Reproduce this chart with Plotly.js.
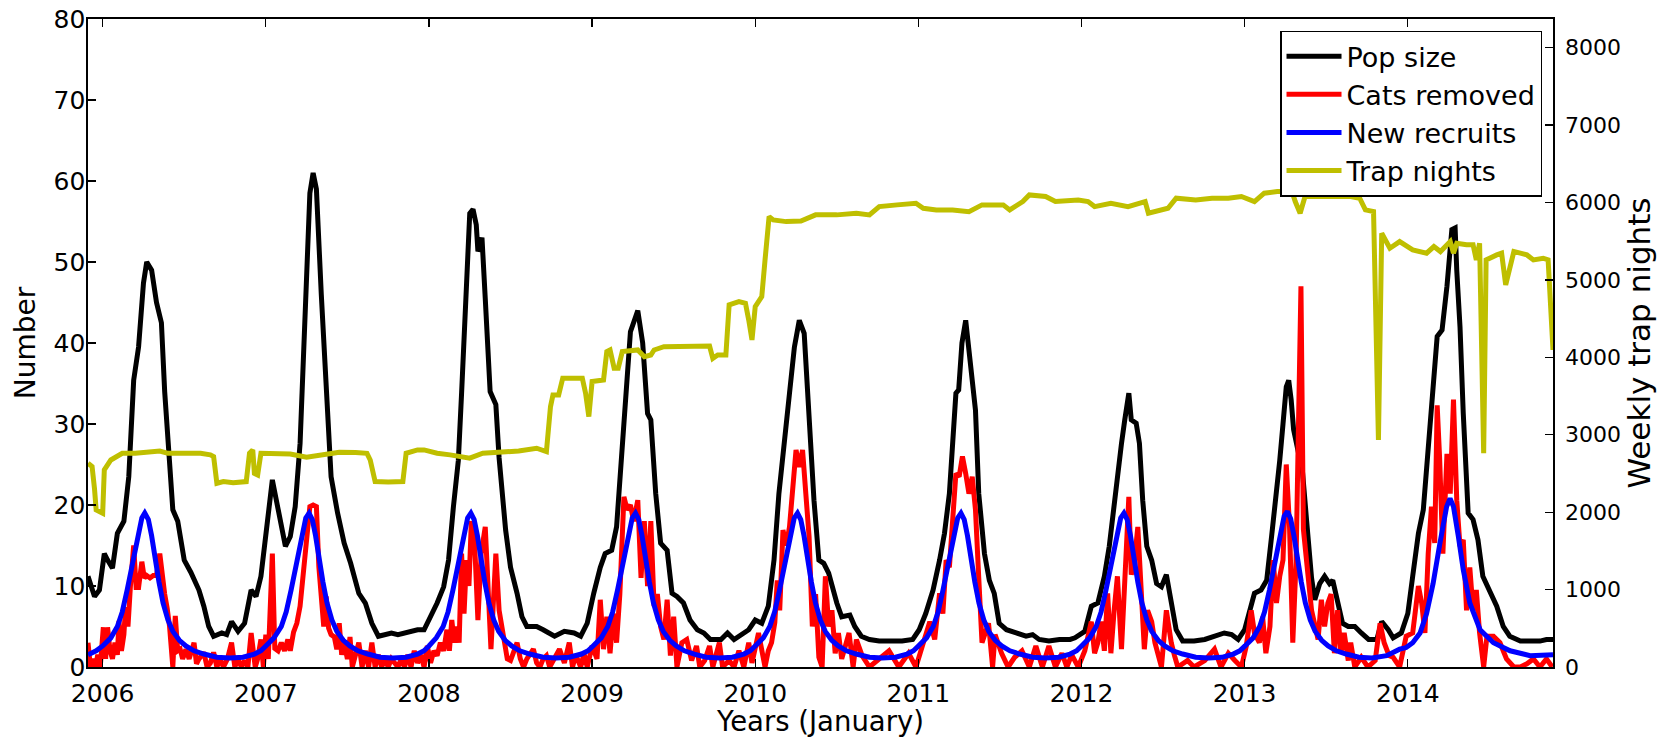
<!DOCTYPE html>
<html>
<head>
<meta charset="utf-8">
<script src="https://cdn.plot.ly/plotly-3.0.1.min.js"></script>
<style>
html,body{margin:0;padding:0;background:#fff;}
#chart{width:1668px;height:737px;}
</style>
</head>
<body>
<div id="chart"></div>
<script>
// ---- tick labels ----
const yearTicks = [2006, 2007, 2008, 2009, 2010, 2011, 2012, 2013, 2014];

// ---- Pop size (black) ----
const popYears = [2005.91,2005.95,2005.98,2006.01,2006.03,2006.06,2006.09,2006.13,2006.16,2006.19,2006.22,2006.25,2006.27,2006.30,2006.33,2006.36,2006.38,2006.41,2006.43,2006.46,2006.50,2006.54,2006.59,2006.62,2006.65,2006.68,2006.73,2006.76,2006.79,2006.83,2006.87,2006.91,2006.94,2006.97,2007.00,2007.04,2007.08,2007.12,2007.15,2007.18,2007.21,2007.24,2007.27,2007.29,2007.31,2007.34,2007.37,2007.40,2007.44,2007.48,2007.52,2007.57,2007.61,2007.65,2007.69,2007.73,2007.77,2007.81,2007.85,2007.93,2007.97,2008.01,2008.05,2008.09,2008.12,2008.15,2008.18,2008.20,2008.22,2008.25,2008.27,2008.29,2008.30,2008.325,2008.345,2008.375,2008.41,2008.43,2008.47,2008.50,2008.54,2008.57,2008.60,2008.66,2008.70,2008.77,2008.83,2008.89,2008.93,2008.97,2009.01,2009.05,2009.08,2009.12,2009.15,2009.17,2009.205,2009.235,2009.28,2009.31,2009.34,2009.36,2009.39,2009.42,2009.46,2009.49,2009.52,2009.56,2009.60,2009.645,2009.685,2009.725,2009.79,2009.83,2009.87,2009.93,2009.96,2010.00,2010.04,2010.08,2010.115,2010.145,2010.18,2010.21,2010.24,2010.27,2010.30,2010.33,2010.36,2010.39,2010.42,2010.45,2010.47,2010.50,2010.53,2010.58,2010.61,2010.65,2010.70,2010.76,2010.84,2010.90,2010.965,2011.005,2011.045,2011.09,2011.13,2011.16,2011.19,2011.21,2011.23,2011.247,2011.267,2011.29,2011.32,2011.35,2011.37,2011.405,2011.435,2011.465,2011.495,2011.54,2011.60,2011.66,2011.70,2011.74,2011.80,2011.865,2011.93,2011.96,2012.02,2012.06,2012.10,2012.14,2012.17,2012.19,2012.22,2012.245,2012.265,2012.29,2012.305,2012.335,2012.355,2012.375,2012.40,2012.43,2012.46,2012.49,2012.52,2012.55,2012.58,2012.62,2012.69,2012.755,2012.815,2012.875,2012.92,2012.96,2013.00,2013.03,2013.06,2013.10,2013.135,2013.165,2013.195,2013.215,2013.235,2013.255,2013.27,2013.285,2013.30,2013.355,2013.38,2013.41,2013.43,2013.46,2013.49,2013.52,2013.54,2013.57,2013.60,2013.635,2013.675,2013.715,2013.76,2013.81,2013.84,2013.88,2013.91,2013.96,2014.00,2014.03,2014.065,2014.095,2014.125,2014.15,2014.17,2014.18,2014.21,2014.24,2014.27,2014.29,2014.30,2014.32,2014.34,2014.37,2014.40,2014.43,2014.46,2014.50,2014.545,2014.585,2014.625,2014.69,2014.75,2014.81,2014.85,2014.89];
const popSize = [11.2,8.7,9.5,14,13.2,12.2,16.5,18,23.5,35.4,39.5,47.4,50.0,49,45,42.5,34,24.3,19.4,18,13.2,11.7,9.5,7.5,5.0,3.8,4.2,4.0,5.6,4.4,5.4,9.5,8.7,11.2,16.1,23.1,19,14.9,16.1,19.8,27.6,42,58.5,61,59,46,33.8,23.5,19,15.3,12.8,9.1,7.9,5.4,3.8,4.0,4.2,4.0,4.2,4.6,4.6,6.2,7.9,9.9,13.2,19.8,25.5,33.8,44,56,56.5,54.6,51.3,53,45.5,34,32.4,25.8,16.9,12.3,9.1,6.2,5.0,5.0,4.6,3.8,4.4,4.2,3.8,5.4,9.1,12.3,14,14.4,17.3,23.5,33,41.4,44,40,31.3,30.5,21.4,15.3,14.4,9.1,8.7,7.9,5.8,4.6,4.2,3.4,3.4,4.2,3.4,4.2,4.6,5.8,5.4,7.5,13.2,21.4,28.9,33.8,39.5,42.8,41.2,30.5,20.6,13.2,12.8,11.6,10,7.9,6.2,6.4,5.0,3.8,3.4,3.2,3.2,3.2,3.4,4.6,6.6,9.5,13.2,16.5,21.4,28.9,33.8,34.2,40,42.8,37.8,31.7,21.4,14,10.7,9.1,5.4,4.6,4.2,3.8,4.0,3.4,3.2,3.4,3.4,3.6,4.4,7.5,7.9,11.2,14.9,18.6,23.5,27.6,30.5,33.8,30.5,30.1,27.6,20.6,14.9,13.2,10.3,9.9,11.4,7.9,4.6,3.2,3.2,3.4,3.8,4.2,4.0,3.4,4.6,7.0,9.1,9.5,10.7,16.1,21.4,25.5,30,34.6,35.4,33,29.3,24,18,11,8.3,10.3,11.2,10.3,10.7,7.9,5.4,5.0,5.0,4.2,3.4,3.4,5.6,4.6,3.6,4.2,6.6,11.2,16.5,19.4,27.6,33.8,38.3,40.8,41.6,47,54,54.2,49,42,31.3,19,18.2,15.7,11.2,9.5,7.5,5.0,3.8,3.2,3.2,3.2,3.4,3.4];

// ---- Cats removed (red) ----
const removedYears = [2005.91,2005.925,2005.94,2005.955,2005.97,2005.985,2006.004,2006.018,2006.03,2006.045,2006.06,2006.075,2006.09,2006.10,2006.115,2006.13,2006.14,2006.155,2006.17,2006.19,2006.205,2006.22,2006.24,2006.255,2006.27,2006.29,2006.31,2006.33,2006.35,2006.365,2006.38,2006.395,2006.41,2006.43,2006.445,2006.46,2006.475,2006.49,2006.51,2006.53,2006.56,2006.575,2006.59,2006.62,2006.64,2006.66,2006.68,2006.70,2006.72,2006.74,2006.765,2006.79,2006.81,2006.83,2006.85,2006.87,2006.89,2006.91,2006.935,2006.95,2006.97,2006.985,2007.00,2007.015,2007.04,2007.055,2007.075,2007.095,2007.115,2007.135,2007.15,2007.17,2007.19,2007.21,2007.23,2007.25,2007.27,2007.29,2007.31,2007.325,2007.34,2007.355,2007.37,2007.385,2007.40,2007.42,2007.435,2007.45,2007.465,2007.48,2007.50,2007.516,2007.53,2007.55,2007.57,2007.59,2007.61,2007.63,2007.65,2007.67,2007.69,2007.71,2007.73,2007.75,2007.77,2007.79,2007.81,2007.83,2007.85,2007.87,2007.89,2007.91,2007.93,2007.95,2007.97,2007.99,2008.01,2008.03,2008.05,2008.07,2008.09,2008.11,2008.125,2008.14,2008.155,2008.17,2008.185,2008.20,2008.215,2008.23,2008.245,2008.26,2008.28,2008.30,2008.32,2008.345,2008.365,2008.38,2008.41,2008.43,2008.46,2008.48,2008.50,2008.52,2008.54,2008.56,2008.58,2008.60,2008.64,2008.66,2008.68,2008.70,2008.72,2008.74,2008.77,2008.80,2008.83,2008.86,2008.88,2008.90,2008.93,2008.95,2008.97,2009.00,2009.03,2009.05,2009.07,2009.09,2009.11,2009.13,2009.15,2009.17,2009.195,2009.215,2009.235,2009.255,2009.28,2009.30,2009.32,2009.34,2009.36,2009.38,2009.40,2009.42,2009.44,2009.46,2009.48,2009.50,2009.52,2009.55,2009.58,2009.61,2009.64,2009.66,2009.69,2009.72,2009.74,2009.78,2009.80,2009.84,2009.87,2009.90,2009.93,2009.96,2009.98,2010.02,2010.06,2010.08,2010.10,2010.12,2010.135,2010.15,2010.17,2010.19,2010.21,2010.23,2010.25,2010.27,2010.29,2010.31,2010.33,2010.35,2010.37,2010.39,2010.41,2010.43,2010.45,2010.47,2010.49,2010.51,2010.53,2010.575,2010.60,2010.62,2010.655,2010.70,2010.76,2010.82,2010.88,2010.94,2010.985,2011.025,2011.07,2011.10,2011.13,2011.15,2011.17,2011.19,2011.21,2011.23,2011.25,2011.27,2011.29,2011.31,2011.33,2011.35,2011.37,2011.39,2011.43,2011.455,2011.47,2011.51,2011.55,2011.59,2011.635,2011.68,2011.72,2011.76,2011.80,2011.84,2011.88,2011.91,2011.94,2011.98,2012.02,2012.06,2012.08,2012.10,2012.12,2012.14,2012.16,2012.18,2012.20,2012.22,2012.245,2012.265,2012.29,2012.305,2012.325,2012.345,2012.365,2012.385,2012.405,2012.43,2012.45,2012.47,2012.49,2012.52,2012.55,2012.57,2012.59,2012.65,2012.69,2012.755,2012.815,2012.855,2012.90,2012.94,2012.98,2013.01,2013.04,2013.06,2013.09,2013.11,2013.13,2013.155,2013.175,2013.195,2013.215,2013.235,2013.255,2013.275,2013.295,2013.315,2013.345,2013.36,2013.375,2013.39,2013.41,2013.43,2013.45,2013.47,2013.49,2013.51,2013.53,2013.55,2013.57,2013.59,2013.61,2013.635,2013.65,2013.675,2013.715,2013.755,2013.80,2013.83,2013.855,2013.885,2013.91,2013.95,2013.99,2014.03,2014.065,2014.085,2014.105,2014.125,2014.145,2014.165,2014.18,2014.195,2014.215,2014.24,2014.26,2014.28,2014.30,2014.32,2014.34,2014.36,2014.38,2014.40,2014.42,2014.44,2014.465,2014.485,2014.505,2014.525,2014.565,2014.605,2014.65,2014.69,2014.73,2014.77,2014.81,2014.85,2014.885];
const catsRemoved = [3.0,0,1,0,1.5,0,4.9,1,4.9,2,1,3,1.5,5.7,2,4,7.4,5,10,15,9.8,9.8,13,11,11.3,11,11.3,11.3,14,11,9,7.3,5,0,6.3,2,2.2,1,2.2,1,3,0.4,1,1.8,0,0.5,1.8,0,1,0,1,3,0,1,0,0.8,0,4.2,0,1,3.4,0,4,1,14,2.3,2,3,2,3.4,2,4.3,5.4,7.5,11.6,17,19.8,20,19.8,12.4,9,5,8.7,4.8,4,3.7,2.2,5.4,1.5,3,1,3.7,0,1.5,3,0,2,0,3,0,1.5,0,1,0,1,0.5,0,1,0,1.5,0,2,0.5,1.5,0,2.6,0.5,2,1.4,3,2,4.6,2,5.8,3,5,3,14,6.6,13.2,10,18,15.3,5.8,14,17.3,9.1,2.2,14,7,3.4,1,0.8,2,3,1,0,1,2.2,0.5,0,1,1.4,0,1,2.2,0.5,3,0,1.5,0,1.7,0,2.6,1,8.3,2.2,6.2,1.7,6.6,3,9,21,19.4,20,18,20.6,11,18,10,18,7.5,9,5,3.4,8.3,1.4,6.2,0,3,3.4,0.8,2.6,0,0.8,2.6,0,3,0,0.8,0,2,0,3,0.5,4.2,0,2,3,5.5,10.7,7,16.9,15,17.3,21.4,26.8,24.7,26.8,21.4,16.1,5,9,1.2,0,11.2,5,7,1.7,4.2,1,4.2,0,3.4,1.4,0,1,2,0,1.7,0,2.6,5.6,3.4,9.1,6.6,13.2,12.3,17.3,23.9,23.5,26,23.9,21.4,23.5,19.4,11,3,5.4,0,4,1.7,0,1.2,2,0,2.6,0,2.6,0,1.7,0,1.5,0,2,5.6,1.7,3,5.6,2,9.1,1.7,7,11.2,2.2,10,21,11.4,13.2,17.3,9.1,2.2,7,5.6,3,1.7,0,7,3,1.4,0,0.8,0,0.8,2.2,0,1.7,0.8,0,2.6,7,4.2,3,6.2,1.7,5,13.2,7.9,11.2,13.2,25,17.3,3,13,47,17,13.2,11,7,5.4,3.4,8.3,5,7.9,9,1.7,7,1.7,4.2,0.8,3,0,1.2,0,0.8,5.4,3,1.4,1.2,0,3.8,4.2,10,7.9,4.2,14,19.8,15.3,32.3,25.8,14,26.3,21.4,33,20.6,14.9,15.7,7,12.3,7,9.5,4.2,0,3.8,3.8,3.8,3,1,0,0,0.4,1,0,1,0];

// ---- New recruits (blue) ----
const recruitYears = [2005.91,2005.96,2006.00,2006.05,2006.09,2006.12,2006.15,2006.175,2006.20,2006.22,2006.24,2006.258,2006.28,2006.30,2006.32,2006.345,2006.37,2006.40,2006.43,2006.47,2006.51,2006.56,2006.62,2006.70,2006.78,2006.86,2006.93,2006.97,2007.00,2007.05,2007.095,2007.125,2007.155,2007.18,2007.205,2007.225,2007.245,2007.265,2007.285,2007.305,2007.325,2007.35,2007.375,2007.405,2007.435,2007.475,2007.515,2007.565,2007.625,2007.70,2007.78,2007.86,2007.93,2007.97,2008.00,2008.045,2008.087,2008.117,2008.147,2008.172,2008.197,2008.217,2008.237,2008.257,2008.277,2008.297,2008.317,2008.342,2008.367,2008.397,2008.427,2008.467,2008.507,2008.557,2008.617,2008.70,2008.78,2008.86,2008.935,2008.975,2009.006,2009.056,2009.096,2009.126,2009.156,2009.181,2009.206,2009.226,2009.246,2009.266,2009.286,2009.306,2009.326,2009.351,2009.376,2009.406,2009.436,2009.476,2009.516,2009.566,2009.626,2009.70,2009.78,2009.86,2009.93,2009.97,2010.00,2010.05,2010.089,2010.119,2010.149,2010.174,2010.199,2010.219,2010.239,2010.259,2010.279,2010.299,2010.319,2010.344,2010.369,2010.399,2010.429,2010.469,2010.509,2010.559,2010.619,2010.70,2010.78,2010.86,2010.93,2010.97,2011.00,2011.05,2011.091,2011.121,2011.151,2011.176,2011.201,2011.221,2011.241,2011.261,2011.281,2011.301,2011.321,2011.346,2011.371,2011.401,2011.431,2011.471,2011.511,2011.561,2011.621,2011.70,2011.78,2011.86,2011.93,2011.97,2012.00,2012.05,2012.09,2012.12,2012.15,2012.175,2012.20,2012.22,2012.24,2012.26,2012.28,2012.30,2012.32,2012.345,2012.37,2012.40,2012.43,2012.47,2012.51,2012.56,2012.62,2012.70,2012.78,2012.86,2012.93,2012.97,2013.002,2013.052,2013.092,2013.122,2013.152,2013.177,2013.202,2013.222,2013.242,2013.262,2013.282,2013.302,2013.322,2013.347,2013.372,2013.402,2013.432,2013.472,2013.512,2013.562,2013.622,2013.70,2013.78,2013.87,2013.95,2013.99,2014.03,2014.075,2014.115,2014.155,2014.197,2014.238,2014.259,2014.28,2014.31,2014.34,2014.38,2014.443,2014.525,2014.627,2014.75,2014.89];
const newRecruits = [1.5,2.0,2.6,3.6,5.0,6.8,9.5,12.0,14.9,17.0,18.4,19.0,18.2,16.2,13.4,10.5,7.9,5.8,4.4,3.3,2.6,2.0,1.6,1.2,1.1,1.2,1.6,2.0,2.6,3.6,5.0,6.8,9.5,12.0,14.9,17.0,18.4,19.0,18.2,16.2,13.4,10.5,7.9,5.8,4.4,3.3,2.6,2.0,1.6,1.2,1.1,1.2,1.6,2.0,2.6,3.6,5.0,6.8,9.5,12.0,14.9,17.0,18.4,19.0,18.2,16.2,13.4,10.5,7.9,5.8,4.4,3.3,2.6,2.0,1.6,1.2,1.1,1.2,1.6,2.0,2.6,3.6,5.0,6.8,9.5,12.0,14.9,17.0,18.4,19.0,18.2,16.2,13.4,10.5,7.9,5.8,4.4,3.3,2.6,2.0,1.6,1.2,1.1,1.2,1.6,2.0,2.6,3.6,5.0,6.8,9.5,12.0,14.9,17.0,18.4,19.0,18.2,16.2,13.4,10.5,7.9,5.8,4.4,3.3,2.6,2.0,1.6,1.2,1.1,1.2,1.6,2.0,2.6,3.6,5.0,6.8,9.5,12.0,14.9,17.0,18.4,19.0,18.2,16.2,13.4,10.5,7.9,5.8,4.4,3.3,2.6,2.0,1.6,1.2,1.1,1.2,1.6,2.0,2.6,3.6,5.0,6.8,9.5,12.0,14.9,17.0,18.4,19.0,18.2,16.2,13.4,10.5,7.9,5.8,4.4,3.3,2.6,2.0,1.6,1.2,1.1,1.2,1.6,2.0,2.6,3.6,5.0,6.8,9.5,12.0,14.9,17.0,18.6,19.2,18.3,16.2,13.4,10.5,7.9,5.8,4.4,3.3,2.6,2.0,1.6,1.2,1.1,1.4,2.2,2.4,3.0,4.2,6.6,10.3,15.3,19.8,20.8,19.8,16.1,12.0,7.9,4.6,3.0,2.0,1.4,1.5];

// ---- Trap nights (olive, right axis) ----
const trapYears = [2005.91,2005.935,2005.95,2005.96,2006.00,2006.01,2006.05,2006.09,2006.12,2006.20,2006.30,2006.35,2006.40,2006.50,2006.60,2006.66,2006.68,2006.70,2006.74,2006.80,2006.88,2006.90,2006.92,2006.93,2006.95,2006.97,2007.05,2007.15,2007.25,2007.35,2007.45,2007.55,2007.62,2007.64,2007.67,2007.75,2007.84,2007.86,2007.93,2007.97,2008.05,2008.13,2008.25,2008.33,2008.45,2008.55,2008.66,2008.72,2008.745,2008.76,2008.795,2008.82,2008.94,2008.96,2008.98,2009.00,2009.07,2009.09,2009.11,2009.135,2009.16,2009.185,2009.28,2009.32,2009.36,2009.38,2009.44,2009.55,2009.72,2009.74,2009.77,2009.82,2009.84,2009.90,2009.94,2009.96,2009.98,2010.00,2010.04,2010.06,2010.085,2010.11,2010.19,2010.28,2010.37,2010.50,2010.62,2010.70,2010.76,2010.87,2010.985,2011.03,2011.11,2011.21,2011.31,2011.39,2011.52,2011.56,2011.64,2011.68,2011.78,2011.84,2011.93,2011.98,2012.04,2012.08,2012.18,2012.285,2012.39,2012.41,2012.53,2012.58,2012.70,2012.80,2012.90,2012.98,2013.06,2013.12,2013.20,2013.29,2013.31,2013.34,2013.37,2013.50,2013.65,2013.705,2013.74,2013.79,2013.82,2013.84,2013.86,2013.89,2013.95,2014.03,2014.115,2014.16,2014.20,2014.26,2014.28,2014.30,2014.36,2014.40,2014.42,2014.44,2014.465,2014.48,2014.545,2014.575,2014.60,2014.65,2014.69,2014.73,2014.77,2014.83,2014.86,2014.89];
const trapNights = [2632,2590,2300,2028,1985,2546,2674,2718,2761,2760,2770,2790,2760,2755,2760,2740,2718,2373,2395,2380,2395,2761,2804,2502,2481,2761,2760,2750,2710,2750,2775,2770,2760,2674,2395,2390,2395,2761,2804,2804,2761,2740,2697,2761,2770,2790,2826,2783,3363,3514,3514,3730,3730,3536,3234,3687,3708,4074,4095,3860,3860,4074,4095,4009,4030,4095,4138,4140,4146,3987,4030,4030,4677,4720,4698,4483,4225,4655,4784,5258,5818,5775,5753,5760,5840,5840,5861,5840,5947,5969,5990,5925,5904,5904,5882,5969,5969,5904,6012,6098,6077,6012,6033,6033,6012,5947,5990,5947,6012,5861,5925,6055,6033,6055,6055,6077,6012,6120,6141,6141,6012,5861,6077,6077,6077,6055,5904,5882,2933,5603,5517,5409,5495,5388,5345,5431,5366,5495,5345,5474,5453,5453,5258,5474,2761,5258,5323,5345,4935,5366,5345,5323,5258,5280,5258,4096];

const FONT = 'DejaVu Sans, Verdana, sans-serif';

const traces = [
  {x: popYears, y: popSize, name: 'Pop size', type: 'scatter', mode: 'lines',
   line: {color: '#000000', width: 5}, yaxis: 'y', legendgroup: 'g1'},
  {x: removedYears, y: catsRemoved, name: 'Cats removed', type: 'scatter', mode: 'lines',
   line: {color: '#ff0000', width: 5}, yaxis: 'y', legendgroup: 'g2'},
  {x: recruitYears, y: newRecruits, name: 'New recruits', type: 'scatter', mode: 'lines',
   line: {color: '#0000ff', width: 5}, yaxis: 'y', legendgroup: 'g3'},
  {x: trapYears, y: trapNights, name: 'Trap nights', type: 'scatter', mode: 'lines',
   line: {color: '#bfbf00', width: 5}, yaxis: 'y2', legendgroup: 'g4'}
];

const axisCommon = {
  ticks: 'inside', ticklen: 8, tickwidth: 1.3, tickcolor: '#000',
  showline: true, linecolor: '#000', linewidth: 1.6,
  showgrid: false, zeroline: false, automargin: false
};

const layout = {
  width: 1668, height: 737,
  margin: {l: 88, r: 115, t: 19, b: 70, pad: 0},
  paper_bgcolor: '#ffffff', plot_bgcolor: '#ffffff',
  font: {family: FONT, color: '#000'},
  showlegend: true,
  xaxis: Object.assign({}, axisCommon, {
    range: [2005.91, 2014.89],
    tickmode: 'array', tickvals: yearTicks, ticktext: yearTicks.map(String),
    mirror: 'ticks',
    tickfont: {family: FONT, size: 25, color: '#000'},
    ticklabelstandoff: 3,
    title: {text: 'Years (January)', font: {family: FONT, size: 27.5, color: '#000'}, standoff: 6}
  }),
  yaxis: Object.assign({}, axisCommon, {
    range: [0, 80], tick0: 0, dtick: 10,
    tickfont: {family: FONT, size: 25, color: '#000'},
    ticklabelstandoff: -4,
    title: {text: 'Number', font: {family: FONT, size: 28, color: '#000'}, standoff: 10}
  }),
  yaxis2: Object.assign({}, axisCommon, {
    overlaying: 'y', side: 'right', anchor: 'x',
    range: [0, 8370], tick0: 0, dtick: 1000, tickformat: 'd',
    tickfont: {family: FONT, size: 22, color: '#000'},
    ticklabelstandoff: 6,
    title: {text: 'Weekly trap nights', font: {family: FONT, size: 31, color: '#000'}, standoff: 4}
  }),
  legend: {
    x: 0.9925, xanchor: 'right', y: 0.982, yanchor: 'top',
    bgcolor: '#ffffff', bordercolor: '#000', borderwidth: 1.5,
    font: {family: FONT, size: 27, color: '#000'},
    itemwidth: 55, traceorder: 'normal', tracegroupgap: 3
  }
};

Plotly.newPlot('chart', traces, layout, {displayModeBar: false, staticPlot: true});
</script>
</body>
</html>
